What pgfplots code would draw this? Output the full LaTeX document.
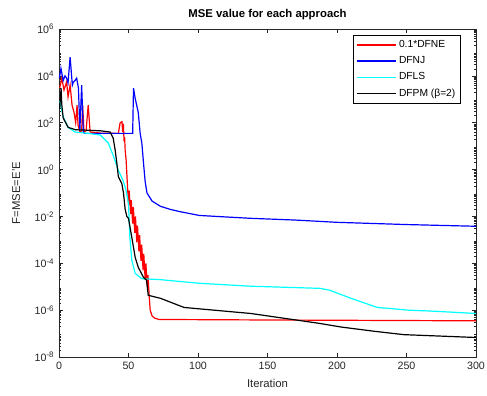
\documentclass[border=0pt]{standalone}
\usepackage{pgfplots}
\pgfplotsset{compat=1.18}
\usepackage{fontspec}
\setmainfont{Liberation Sans}
\definecolor{axgray}{rgb}{0.15,0.15,0.15}
\definecolor{mred}{rgb}{1,0,0}
\definecolor{mblue}{rgb}{0,0,1}
\definecolor{mcyan}{rgb}{0,1,1}
\definecolor{mblack}{rgb}{0,0,0}
\def\minorlist{}
\foreach \e in {-8,...,5}{\foreach \m in {2,...,9}{\xdef\minorlist{\minorlist\m e\e,}}}
\begin{document}
\begin{tikzpicture}
\useasboundingbox (-44.25pt,-29.25pt) rectangle (321pt,267.75pt);
\begin{axis}[
  at={(0,0)}, anchor=south west,
  scale only axis, width=312.75pt, height=246pt,
  ymode=log,
  xmin=0, xmax=300, ymin=1e-8, ymax=1e6,
  xtick={0,50,...,300},
  ytick={1e-8,1e-6,1e-4,1e-2,1,1e2,1e4,1e6},
  yticklabels={10\textsuperscript{-8},10\textsuperscript{-6},10\textsuperscript{-4},10\textsuperscript{-2},10\textsuperscript{0},10\textsuperscript{2},10\textsuperscript{4},10\textsuperscript{6}},
  minor ytick/.expanded={\minorlist 1e6},
  /pgf/number format/assume math mode=true,
  tick label style={font=\fontsize{8}{9}\selectfont, text=axgray},
  axis line style={axgray},
  every tick/.style={axgray},
  major tick length=3pt, minor tick length=1.6pt,
  tick align=inside,
  title={\bfseries MSE value for each approach},
  title style={font=\fontsize{8.5}{10}\selectfont, yshift=-3pt},
  xlabel={Iteration},
  ylabel={F=MSE=E'E},
  label style={font=\fontsize{8.5}{10}\selectfont, text=axgray},
  xlabel style={yshift=-1pt},
  ylabel style={yshift=4pt},
  legend style={at={(0.964,0.982)}, anchor=north east, fill=white, draw=black,
    font=\fontsize{7.7}{9}\selectfont, row sep=1.2pt, inner sep=2pt},
  legend cell align=left,
]
\addlegendimage{color=mred, line width=1pt, legend image code/.code={\draw[color=mred, line width=1pt] (0pt,0pt) -- (29pt,0pt);}}
\addlegendentry{0.1*DFNE}
\addlegendimage{color=mblue, line width=1pt, legend image code/.code={\draw[color=mblue, line width=1pt] (0pt,0pt) -- (29pt,0pt);}}
\addlegendentry{DFNJ}
\addlegendimage{color=mcyan, line width=1pt, legend image code/.code={\draw[color=mcyan, line width=1pt] (0pt,0pt) -- (29pt,0pt);}}
\addlegendentry{DFLS}
\addlegendimage{color=mblack, line width=0.8pt, legend image code/.code={\draw[color=mblack, line width=0.8pt] (0pt,0pt) -- (29pt,0pt);}}
\addlegendentry{DFPM (β=2)}
% 0.1*DFNE
\addplot[color=mred, line width=0.9pt, forget plot] coordinates {
(0.5,3000) (2,8000) (3.6,2500) (5.5,5500) (6.5,1260) (8,4000) (9.4,560) (10.8,280) (12,100) (13,560) (13.7,80) (15,40) (16.3,45) (17,560) (18,40) (19.5,45) (21,560) (22.4,40) (30,36) (42.7,35)
(44,100) (45.3,110) (45.8,40) (46.3,90) (46.8,16) (47.2,25) (47.6,6.8) (48.3,2.5) (49,0.4)
(50,0.032) (50.5,0.126) (51.5,0.0126) (52,0.05) (53,0.005) (53.5,0.025) (54.5,0.002) (55,0.01) (56,7.9e-4) (56.5,0.004) (57.5,3.2e-4) (58,1.6e-3) (59,1.26e-4) (59.5,6.3e-4) (60.5,5e-5) (61,2.5e-4) (62,2e-5) (62.5,1e-4) (63.5,1e-5) (64,3.2e-5) (65,3.2e-6) (65.6,1e-6) (67,5.6e-7) (69,4.5e-7) (72,4e-7) (150,3.8e-7) (300,3.5e-7)
};
% DFNJ
\addplot[color=mblue, line width=0.9pt, forget plot] coordinates {
(0.3,8000) (1.4,2.1e4) (3,6300) (4.3,1e4) (5.5,8000) (6.5,5000) (8,6.3e4) (9.6,4000) (10.3,5400) (11.5,6300) (12.7,8000) (14,3000) (15,47) (16.3,4000) (17.5,40) (18.5,35) (53,35)
(53.6,3000) (54.8,1100) (57,280) (58.4,35) (59.6,13.5) (60.8,1.9) (62,0.3) (63.3,0.1) (67,0.045) (73,0.027) (80,0.02) (87,0.016) (101,0.011) (120,0.0095) (138,0.0083) (170,0.007) (200,0.0056) (250,0.0045) (300,0.0038)
};
% DFLS
\addplot[color=mcyan, line width=0.9pt, forget plot] coordinates {
(0,800) (0.7,800) (3,180) (6.6,63) (11.5,40) (21,35) (29.6,30) (35.5,13.5) (39,4) (42.7,0.93) (46,0.35) (48,0.15) (50,0.035) (51,1.26e-3) (52.4,1.35e-4) (54.8,3.7e-5) (59.6,2.2e-5) (73,2e-5) (101,1.4e-5) (138,1.05e-5) (188,8.5e-6) (195,7e-6) (210,3.2e-6) (220,2e-6) (229,1.3e-6) (240,1.15e-6) (251,1e-6) (270,9e-7) (300,7.2e-7)
};
% DFPM
\addplot[color=mblack, line width=0.9pt, forget plot] coordinates {
(0.5,400) (1.5,3000) (2,600) (3,160) (6.6,63) (12,50) (20,48) (30,45) (36.8,40) (39,22) (40.4,6.8) (41.6,1.9) (42.7,0.5) (45.2,0.25) (46.4,0.1) (47.6,0.02) (48.8,0.01) (50,8.3e-3) (52.4,1.26e-3) (54.8,1.8e-4) (57,6.8e-5) (60.8,2.5e-5) (63,1.9e-5) (64.2,4.3e-6) (73,3.2e-6) (90,1.3e-6) (138,7.2e-7) (186,2.8e-7) (203,1.9e-7) (227,1.25e-7) (248,9e-8) (300,6.8e-8)
};
\end{axis}
\end{tikzpicture}
\end{document}
